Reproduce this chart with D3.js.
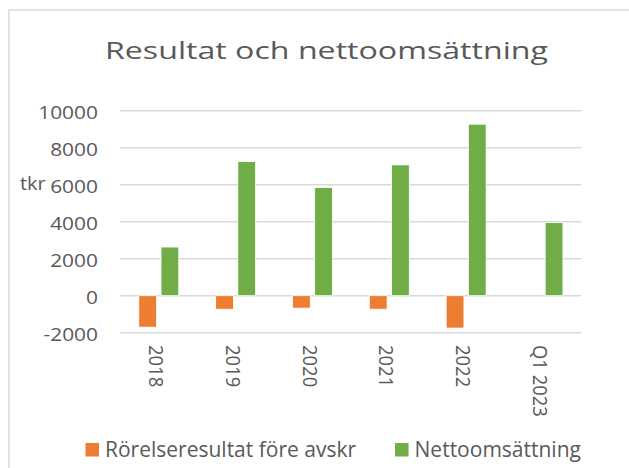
<!DOCTYPE html>
<html>
<head>
<meta charset="utf-8">
<script src="https://cdn.jsdelivr.net/npm/d3@7"></script>
<style>
  body { margin: 0; background: #fff; }
  text { font-family: "Open Sans", "Noto Sans", sans-serif; fill: #595959; }
</style>
</head>
<body>
<div id="chart"></div>
<script>
const width = 629;
const height = 468;

// data
const categories = ["2018", "2019", "2020", "2021", "2022", "Q1 2023"];
const series = ["Rörelseresultat före avskr", "Nettoomsättning"];
const rorelseresultat = [-1700, -730, -670, -730, -1750, 0];
const nettoomsattning = [2630, 7250, 5850, 7070, 9270, 3950];
const yTicks = [-2000, 0, 2000, 4000, 6000, 8000, 10000];
const colors = ["#ED7D31", "#70AD47"];

const values = [rorelseresultat, nettoomsattning];

// the reference text is a bit wider than Open Sans, stretch it
const stretch = 1.13;
function widen(sel, k) {
    sel.each(function() {
        const w = this.getComputedTextLength();
        d3.select(this)
            .attr("textLength", w * k)
            .attr("lengthAdjust", "spacingAndGlyphs");
    });
}

const svg = d3.select("#chart").append("svg")
    .attr("width", width)
    .attr("height", height);

// chart frame
svg.append("rect")
    .attr("x", 9).attr("y", 10)
    .attr("width", 640).attr("height", 480)
    .attr("fill", "#fff")
    .attr("stroke", "#d9d9d9")
    .attr("stroke-width", 1.5);

const title = svg.append("text")
    .attr("x", 105).attr("y", 59)
    .style("font-size", "24px")
    .text("Resultat och nettoomsättning");
widen(title, 443 / title.node().getComputedTextLength());

const x = d3.scaleBand()
    .domain(categories)
    .range([120, 581]);

const bw = x.bandwidth();
const x1 = d3.scaleBand()
    .domain(series)
    .range([bw * 0.245, bw * 0.765])
    .paddingInner(0.2);

const y = d3.scaleLinear()
    .domain([-2000, 10000])
    .range([332.7, 110.7]);

// gridlines
svg.append("g")
    .selectAll("line")
    .data(yTicks)
    .join("line")
    .attr("x1", 120).attr("x2", 581)
    .attr("y1", d => y(d)).attr("y2", d => y(d))
    .attr("stroke", "#d9d9d9")
    .attr("stroke-width", 1.5);

// y tick labels (plain hyphen for negatives, like the original)
const yLabels = svg.append("g")
    .selectAll("text")
    .data(yTicks)
    .join("text")
    .attr("x", 98)
    .attr("y", d => y(d) + 1)
    .attr("text-anchor", "end")
    .attr("dominant-baseline", "central")
    .style("font-size", "18.5px")
    .text(d => String(d));
widen(yLabels, stretch);

const tkr = svg.append("text")
    .attr("x", 20).attr("y", 190)
    .style("font-size", "19px")
    .text("tkr");
widen(tkr, 1.05);

// bars
const groups = svg.append("g")
    .selectAll("g")
    .data(categories)
    .join("g")
    .attr("transform", d => `translate(${x(d)},0)`);

groups.selectAll("rect")
    .data((c, i) => series.map((s, j) => ({ s, j, v: values[j][i] })))
    .join("rect")
    .filter(d => d.v !== 0)
    .attr("x", d => x1(d.s))
    .attr("width", x1.bandwidth())
    .attr("y", d => y(Math.max(0, d.v)))
    .attr("height", d => Math.abs(y(d.v) - y(0)))
    .attr("fill", d => colors[d.j])
    .attr("stroke", "#fff")
    .attr("stroke-width", 0.8);

// x axis labels, rotated to read downwards
const xLabels = svg.append("g")
    .selectAll("text")
    .data(categories)
    .join("text")
    .attr("transform", d => `translate(${x(d) + bw / 2 - 1.5},345) rotate(90)`)
    .attr("dominant-baseline", "central")
    .style("font-size", "20.5px")
    .text(d => d);
widen(xLabels, 0.9);

// legend
const legend = svg.append("g")
    .attr("transform", "translate(85.5,443)");

let lx = 0;
series.forEach((s, i) => {
    const g = legend.append("g").attr("transform", `translate(${lx},0)`);
    g.append("rect")
        .attr("width", 13.5).attr("height", 13.5)
        .attr("fill", colors[i]);
    const t = g.append("text")
        .attr("x", 19.5).attr("y", 13.5)
        .style("font-size", "21px")
        .text(s);
    lx += 19.5 + t.node().getComputedTextLength() + 39;
});
</script>
</body>
</html>
